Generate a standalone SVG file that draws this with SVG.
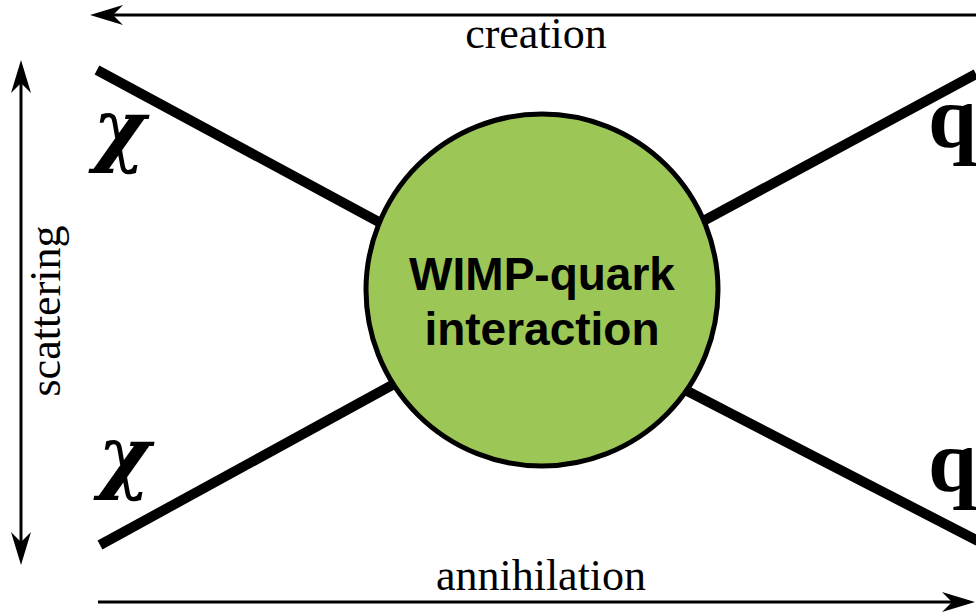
<svg xmlns="http://www.w3.org/2000/svg" width="976" height="612" viewBox="0 0 976 612">
<style>
.serif{font-family:"Liberation Serif","Times New Roman",serif;fill:#000}
.lbl{font-size:44px}
.particle{font-size:88px;font-weight:bold}
.chi{font-family:"DejaVu Serif",serif;font-size:80px;font-weight:bold;font-style:italic;fill:#000}
.leg{stroke:#000;stroke-width:10;stroke-linecap:butt;fill:none}
.axis{stroke:#000;stroke-width:3;fill:none}
.core{font-family:"Liberation Sans",Arial,sans-serif;font-weight:bold;font-size:46px;fill:#000;text-anchor:middle}
</style>
<defs>
<marker id="ah" markerUnits="userSpaceOnUse" viewBox="-36 -12 38 24" markerWidth="38" markerHeight="24" refX="-10" refY="0" orient="auto">
<path d="M0,0 L-33,-10 L-23,0 L-33,10 Z" fill="#000"/>
</marker>
</defs>
<rect width="976" height="612" fill="#fff"/>
<g id="connectors">
<line class="leg" x1="97" y1="70" x2="542" y2="310"/>
<line class="leg" x1="100" y1="545" x2="542" y2="303"/>
<line class="leg" x1="976" y1="74" x2="542" y2="308"/>
<line class="leg" x1="978" y1="541" x2="542" y2="316"/>
<line class="axis" x1="976" y1="15" x2="100" y2="15" marker-end="url(#ah)"/>
<line class="axis" x1="98" y1="602" x2="965" y2="602" marker-end="url(#ah)"/>
<line class="axis" x1="21" y1="312" x2="21" y2="70" marker-end="url(#ah)"/>
<line class="axis" x1="21" y1="312" x2="21" y2="555" marker-end="url(#ah)"/>
</g>
<g id="interaction">
<circle cx="542" cy="290" r="176" fill="#9cc656" stroke="#000" stroke-width="5"/>
<text class="core" x="542" y="290">WIMP-quark</text>
<text class="core" x="542" y="345">interaction</text>
</g>
<g id="chi-top"><text class="chi" x="93" y="156">χ</text></g>
<g id="chi-bottom"><text class="chi" x="98" y="483">χ</text></g>
<g id="q-top"><text class="serif particle" x="928" y="147">q</text></g>
<g id="q-bottom"><text class="serif particle" x="928" y="491">q</text></g>
<g id="label-creation"><text class="serif lbl" x="536" y="48" text-anchor="middle">creation</text></g>
<g id="label-annihilation"><text class="serif lbl" x="541" y="590" text-anchor="middle" font-size="45">annihilation</text></g>
<g id="label-scattering"><text class="serif lbl" text-anchor="middle" transform="translate(60,311) rotate(-90)">scattering</text></g>
</svg>
